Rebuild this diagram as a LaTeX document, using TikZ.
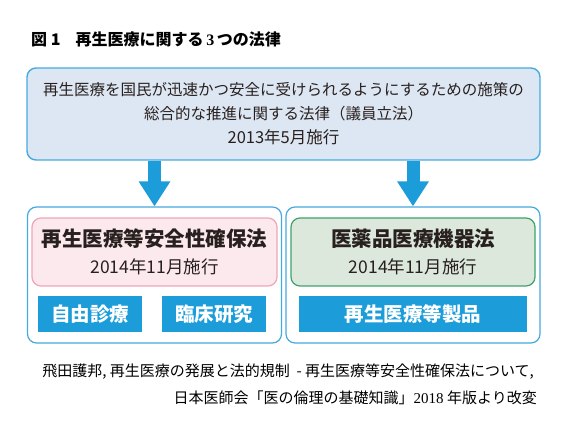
\documentclass[tikz,border=0pt]{standalone}
\usepackage{fontspec}
\setmainfont{Noto Sans CJK JP}
\newfontfamily\latinserif{Liberation Serif}
\usepackage{xcolor}
\usepackage{tikz}
\usetikzlibrary{positioning, arrows.meta}
\definecolor{rgBlue}{RGB}{28, 157, 217}
\definecolor{rgEdge}{RGB}{70, 170, 222}
\definecolor{rgLight}{RGB}{221, 231, 243}
\definecolor{rgPink}{RGB}{251, 233, 237}
\definecolor{rgPinkEdge}{RGB}{240, 166, 182}
\definecolor{rgGreen}{RGB}{220, 232, 220}
\definecolor{rgGreenEdge}{RGB}{60, 164, 106}
\definecolor{rgText}{RGB}{40, 32, 30}
\tikzset{
    base/.style={
        font=\fontsize{15.5}{24}\selectfont,
        align=center,
        text=rgText,
        inner sep=0pt
    },
    lawbox/.style={
        base,
        rectangle,
        rounded corners=9pt,
        draw=rgEdge,
        line width=1.4pt,
        fill=rgLight,
        minimum width=513pt,
        minimum height=92pt
    },
    frame/.style={
        rectangle,
        rounded corners=9pt,
        draw=rgEdge,
        line width=1.2pt,
        fill=white,
        minimum width=254pt,
        minimum height=136pt
    },
    act/.style={
        base,
        font=\fontsize{17.5}{27}\selectfont,
        rectangle,
        rounded corners=9pt,
        line width=1.2pt,
        minimum width=245pt,
        minimum height=68pt
    },
    tag/.style={
        base,
        rectangle,
        fill=rgBlue,
        text=white,
        font=\fontsize{19.5}{20}\selectfont\bfseries,
        minimum height=36pt
    },
    flow/.style={
        -{Triangle[width=30pt, length=25pt]},
        line width=13pt,
        draw=rgBlue
    },
    note/.style={
        font=\fontsize{15}{20}\selectfont,
        text=black,
        inner sep=0pt,
        anchor=east
    }
}

\begin{document}
\begin{tikzpicture}[x=1pt, y=-1pt]
  \useasboundingbox (0,0) rectangle (570,430);

  % Title
  \node[anchor=west, inner sep=0pt, font=\fontsize{16}{16}\selectfont\bfseries] (title) at (31,39)
    {図 1\hspace{15pt}再生医療に関する\,{\latinserif 3}\,つの法律};

  % Top: the basic act
  \node[lawbox] (basic) at (283.5,114)
    {再生医療を国民が迅速かつ安全に受けられるようにするための施策の\\
     総合的な推進に関する法律（議員立法）\\
     {\fontsize{16.5}{24}\selectfont 2013年5月施行}};

  % Left and right frames
  \node[frame] (lframe) at (154.5,275) {};
  \node[frame] (rframe) at (413,275) {};

  % Acts
  \node[act, draw=rgPinkEdge, fill=rgPink] (safety) at (154.5,252)
    {{\fontsize{20.5}{27}\selectfont\bfseries 再生医療等安全性確保法}\\2014年11月施行};
  \node[act, draw=rgGreenEdge, fill=rgGreen, minimum width=244pt] (device) at (413,252)
    {{\fontsize{20.5}{27}\selectfont\bfseries 医薬品医療機器法}\\2014年11月施行};

  % Fields
  \node[tag, minimum width=104pt] (jiyu) at (90,314) {自由診療};
  \node[tag, minimum width=104pt] (rinsho) at (214,314) {臨床研究};
  \node[tag, minimum width=228pt] (seihin) at (413,314) {再生医療等製品};

  % Arrows
  \draw[flow] (basic.south -| lframe.north) -- (lframe.north);
  \draw[flow] (basic.south -| rframe.north) -- (rframe.north);

  % Source
  \node[note] (src1) at (534,372)
    {飛田護邦, 再生医療の発展と法的規制\ \ - 再生医療等安全性確保法について,};
  \node[note] (src2) at (537,398)
    {日本医師会「医の倫理の基礎知識」{\latinserif 2018} 年版より改変};

\end{tikzpicture}
\end{document}
